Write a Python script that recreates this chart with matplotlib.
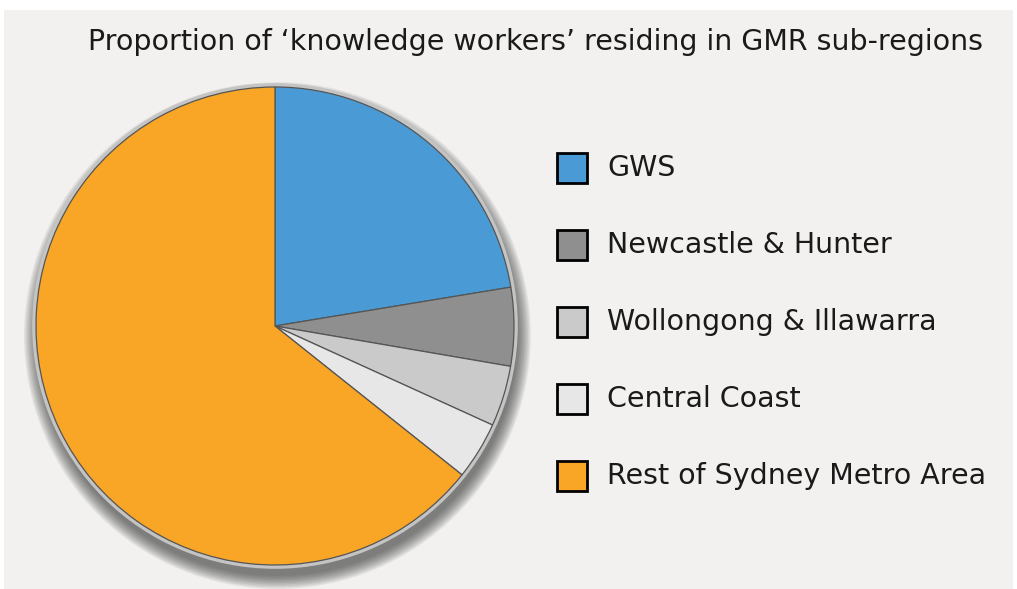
import matplotlib

matplotlib.use("Agg")
import matplotlib.pyplot as plt
from matplotlib.patches import Rectangle, Circle

# data
labels = [
    "GWS",
    "Newcastle & Hunter",
    "Wollongong & Illawarra",
    "Central Coast",
    "Rest of Sydney Metro Area",
]
shares = [22.4, 5.3, 4.1, 3.9, 64.3]
colors = ["#4a9bd5", "#8f8f8f", "#cacaca", "#e7e7e7", "#f9a526"]
title = "Proportion of \u2018knowledge workers\u2019 residing in GMR sub-regions"

W, H = 1017, 589
fig = plt.figure(figsize=(W / 100, H / 100), dpi=100)
fig.patch.set_facecolor("white")
fig.add_artist(Rectangle((4 / W, 0), (1009) / W, (H - 10) / H,
                         transform=fig.transFigure, facecolor="#f2f1ef",
                         edgecolor="none", zorder=0))

# pie axes: centre (275, 326) px, radius 239 px
cx, cy, r = 275, 326, 239
lim = 1.15
ax = fig.add_axes([(cx - r * lim) / W, (H - cy - r * lim) / H,
                   2 * r * lim / W, 2 * r * lim / H])
ax.set_xlim(-lim, lim)
ax.set_ylim(-lim, lim)
ax.axis("off")

# soft drop shadow + grey rim
for i in range(10):
    ax.add_patch(Circle((0.01, -0.04), 1.06 - i * 0.006, facecolor="#3a3a3a",
                        alpha=0.09, edgecolor="none", zorder=1))
ax.add_patch(Circle((0, 0), 1.016, facecolor="#c4c4c4", edgecolor="none", zorder=2))

wedges, _ = ax.pie(
    shares,
    colors=colors,
    startangle=90,
    counterclock=False,
    radius=1.0,
    wedgeprops={"edgecolor": "#555555", "linewidth": 0.9},
)
for w in wedges:
    w.set_zorder(3)
ax.set_xlim(-lim, lim)
ax.set_ylim(-lim, lim)
ax.set_aspect("auto")

fig.text(536 / W, 1 - 42 / H, title, ha="center", va="center",
         fontsize=20.5, color="#1a1a1a", family="DejaVu Sans")

# legend
y0, dy = 168, 77
for i, (lab, col) in enumerate(zip(labels, colors)):
    yc = y0 + i * dy
    fig.add_artist(Rectangle((557 / W, 1 - (yc + 15) / H), 30 / W, 30 / H,
                             transform=fig.transFigure, facecolor=col,
                             edgecolor="black", linewidth=2))
    fig.text(607 / W, 1 - yc / H, lab, ha="left", va="center",
             fontsize=20.5, color="#1a1a1a", family="DejaVu Sans")

fig.savefig("out.png", dpi=100, facecolor=fig.get_facecolor())
